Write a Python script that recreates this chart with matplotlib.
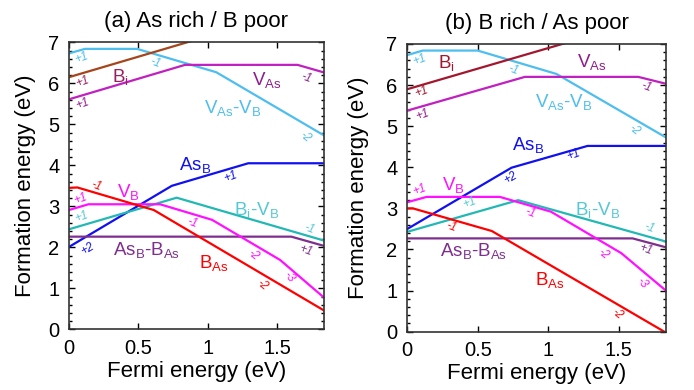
import numpy as np
import matplotlib
matplotlib.use("Agg")
import matplotlib.pyplot as plt
from matplotlib.ticker import MultipleLocator

plt.rcParams["font.family"] = ["Liberation Sans", "DejaVu Sans"]

# ---------------------------------------------------------------------------
# Data : formation energy breakpoints (Fermi energy in eV, E_f in eV)
# ---------------------------------------------------------------------------
# (a) As rich / B poor
a_vasvb_x = [0, 0.115, 0.49, 1.06, 1.84]
a_vasvb_y = [6.73, 6.84, 6.84, 6.27, 4.72]
a_bi_x = [0, 1.0]
a_bi_y = [6.15, 7.15]
a_vas_x = [0, 0.835, 1.645, 1.84]
a_vas_y = [5.61, 6.45, 6.45, 6.26]
a_asb_x = [0, 0.74, 1.29, 1.84]
a_asb_y = [2.01, 3.50, 4.05, 4.05]
a_bas_x = [0, 0.06, 0.61, 1.84]
a_bas_y = [3.45, 3.46, 2.91, 0.45]
a_vb_x = [0, 0.14, 0.655, 1.03, 1.52, 1.84]
a_vb_y = [2.91, 3.05, 3.05, 2.67, 1.69, 0.76]
a_bivb_x = [0, 0.775, 1.84]
a_bivb_y = [2.44, 3.21, 2.16]
a_asbbas_x = [0, 1.60, 1.84]
a_asbbas_y = [2.26, 2.26, 2.03]

# (b) B rich / As poor
b_vasvb_x = [0, 0.11, 0.50, 1.06, 1.84]
b_vasvb_y = [6.73, 6.84, 6.84, 6.27, 4.72]
b_bi_x = [0, 1.2]
b_bi_y = [5.90, 7.10]
b_vas_x = [0, 0.835, 1.64, 1.84]
b_vas_y = [5.38, 6.20, 6.20, 6.03]
b_asb_x = [0, 0.74, 1.28, 1.84]
b_asb_y = [2.50, 3.99, 4.52, 4.52]
b_bas_x = [0, 0.04, 0.60, 1.84]
b_bas_y = [3.0, 3.0, 2.45, -0.03]
b_vb_x = [0, 0.137, 0.657, 1.02, 1.52, 1.84]
b_vb_y = [3.15, 3.28, 3.28, 2.92, 1.91, 0.99]
b_bivb_x = [0, 0.787, 1.84]
b_bivb_y = [2.43, 3.20, 2.19]
b_asbbas_x = [0, 1.60, 1.84]
b_asbbas_y = [2.27, 2.27, 2.05]

# colours
C_VASVB = "#4DBEEE"
C_BI_A = "#A5451C"
C_BI_B = "#A3172E"
C_BI_LBL = "#962060"
C_VAS = "#C020C0"
C_VAS_LBL = "#8E1C8E"
C_ASB = "#1010F0"
C_BAS = "#FF0000"
C_VB = "#FF10FF"
C_BIVB = "#22B8B4"
C_BIVB_LBL = "#55C8D4"
C_ASBBAS = "#7E2F8E"

# defect names
N_VASVB = r"$\mathregular{V_{As}}$-$\mathregular{V_{B}}$"
N_BI = r"$\mathregular{B_{i}}$"
N_VAS = r"$\mathregular{V_{As}}$"
N_ASB = r"$\mathregular{As_{B}}$"
N_BAS = r"$\mathregular{B_{As}}$"
N_VB = r"$\mathregular{V_{B}}$"
N_BIVB = r"$\mathregular{B_{i}}$-$\mathregular{V_{B}}$"
N_ASBBAS = r"$\mathregular{As_{B}}$-$\mathregular{B_{As}}$"

BIG = 13.5
SML = 8.5

# labels : (x, y, text, colour, size, rotation)
a_labels = [
    (0.09, 6.61, "+1", C_VASVB, SML, 20), (0.62, 6.49, "-1", C_VASVB, SML, -20),
    (1.70, 4.70, "-2", C_VASVB, SML, -40), (0.10, 6.04, "+1", C_BI_LBL, SML, 20),
    (0.37, 6.16, N_BI, C_BI_LBL, BIG, 0), (0.10, 5.51, "+1", C_VAS_LBL, SML, 20),
    (1.42, 6.08, N_VAS, C_VAS_LBL, BIG, 0), (1.71, 6.12, "-1", C_VAS_LBL, SML, -20),
    (1.18, 5.39, N_VASVB, C_VASVB, BIG, 0), (0.91, 4.01, N_ASB, C_ASB, BIG, 0),
    (1.16, 3.72, "+1", C_ASB, SML, 20), (0.20, 3.50, "-1", C_BAS, SML, -20),
    (0.43, 3.36, N_VB, C_VB, BIG, 0), (0.08, 3.17, "+1", C_VB, SML, 20),
    (0.09, 2.73, "+1", C_BIVB_LBL, SML, 20), (0.13, 1.95, "+2", C_ASB, SML, 30),
    (1.35, 2.91, N_BIVB, C_BIVB_LBL, BIG, 0), (0.89, 2.60, "-1", C_VB, SML, -20),
    (1.73, 2.44, "-1", C_BIVB_LBL, SML, -20), (0.56, 1.93, N_ASBBAS, C_ASBBAS, BIG, 0),
    (1.70, 1.92, "+1", C_ASBBAS, SML, -20), (1.04, 1.61, N_BAS, C_BAS, BIG, 0),
    (1.33, 1.81, "-2", C_VB, SML, -40), (1.58, 1.27, "-3", C_VB, SML, -50),
    (1.39, 1.08, "-2", C_BAS, SML, -40),
]
b_labels = [
    (0.09, 6.61, "+1", C_VASVB, SML, 20), (0.28, 6.53, N_BI, C_BI_B, BIG, 0),
    (0.75, 6.38, "-1", C_VASVB, SML, -20), (1.31, 6.57, N_VAS, C_VAS_LBL, BIG, 0),
    (0.10, 5.84, "+1", C_BI_B, SML, 20), (1.70, 5.96, "-1", C_VAS_LBL, SML, -20),
    (0.11, 5.27, "+1", C_VAS_LBL, SML, 20), (1.11, 5.60, N_VASVB, C_VASVB, BIG, 0),
    (1.61, 4.91, "-2", C_VASVB, SML, -40), (0.86, 4.54, N_ASB, C_ASB, BIG, 0),
    (1.18, 4.30, "+1", C_ASB, SML, 20), (0.73, 3.73, "+2", C_ASB, SML, 30),
    (0.09, 3.45, "+1", C_VB, SML, 20), (0.33, 3.57, N_VB, C_VB, BIG, 0),
    (0.44, 3.14, "+1", C_BIVB_LBL, SML, 20), (0.31, 2.55, "-1", C_BAS, SML, -20),
    (0.87, 2.88, "-1", C_VB, SML, -20), (1.35, 2.96, N_BIVB, C_BIVB_LBL, BIG, 0),
    (1.72, 2.52, "-1", C_BIVB_LBL, SML, -20), (0.47, 1.97, N_ASBBAS, C_ASBBAS, BIG, 0),
    (1.69, 2.00, "+1", C_ASBBAS, SML, -20), (1.39, 1.89, "-2", C_VB, SML, -40),
    (1.01, 1.26, N_BAS, C_BAS, BIG, 0), (1.67, 1.18, "-3", C_VB, SML, -50),
    (1.49, 0.43, "-2", C_BAS, SML, -40),
]

panels = [
    ("(a) As rich / B poor", [0.0994, 0.1556, 0.3674, 0.7359], -0.169, a_labels,
     [(a_vasvb_x, a_vasvb_y, C_VASVB), (a_bi_x, a_bi_y, C_BI_A), (a_vas_x, a_vas_y, C_VAS),
      (a_asb_x, a_asb_y, C_ASB), (a_bivb_x, a_bivb_y, C_BIVB), (a_asbbas_x, a_asbbas_y, C_ASBBAS),
      (a_vb_x, a_vb_y, C_VB), (a_bas_x, a_bas_y, C_BAS)]),
    ("(b) B rich / As poor", [0.5869, 0.1495, 0.3723, 0.7377], -0.188, b_labels,
     [(b_vasvb_x, b_vasvb_y, C_VASVB), (b_bi_x, b_bi_y, C_BI_B), (b_vas_x, b_vas_y, C_VAS),
      (b_asb_x, b_asb_y, C_ASB), (b_bivb_x, b_bivb_y, C_BIVB), (b_asbbas_x, b_asbbas_y, C_ASBBAS),
      (b_vb_x, b_vb_y, C_VB), (b_bas_x, b_bas_y, C_BAS)]),
]

fig = plt.figure(figsize=(6.94, 3.90), dpi=100)

for title, rect, ylab_x, labels, lines in panels:
    ax = fig.add_axes(rect)
    for x, y, c in lines:
        ax.plot(x, y, color=c, lw=1.6)
    for x, y, s, c, fs, rot in labels:
        style = "italic" if fs < 10 else "normal"
        ax.text(x, y, s, color=c, fontsize=fs, rotation=rot, style=style,
                ha="center", va="center")
    ax.set_xlim(0, 1.835)
    ax.set_ylim(0, 7)
    ax.yaxis.set_major_locator(MultipleLocator(1))
    ax.yaxis.set_minor_locator(MultipleLocator(0.2))
    ax.set_xticks([0, 0.5, 1, 1.5])
    ax.set_xticklabels(["0", "0.5", "1", "1.5"])
    ax.tick_params(which="both", direction="in", top=True, right=True, labelsize=14.5,
                   width=1.0)
    ax.tick_params(axis="x", pad=7)
    ax.tick_params(axis="y", pad=7)
    ax.tick_params(which="major", length=4)
    ax.tick_params(which="minor", length=2.5)
    for sp in ax.spines.values():
        sp.set_linewidth(1.2)
        sp.set_color("#333333")
    ax.set_title(title, fontsize=16, pad=11)
    ax.set_xlabel("Fermi energy (eV)", fontsize=16, va="baseline")
    ax.xaxis.set_label_coords(0.5, -0.165)
    ax.set_ylabel("Formation energy (eV)", fontsize=16, va="center")
    ax.yaxis.set_label_coords(ylab_x, 0.5)

fig.savefig("out.png", dpi=100)
